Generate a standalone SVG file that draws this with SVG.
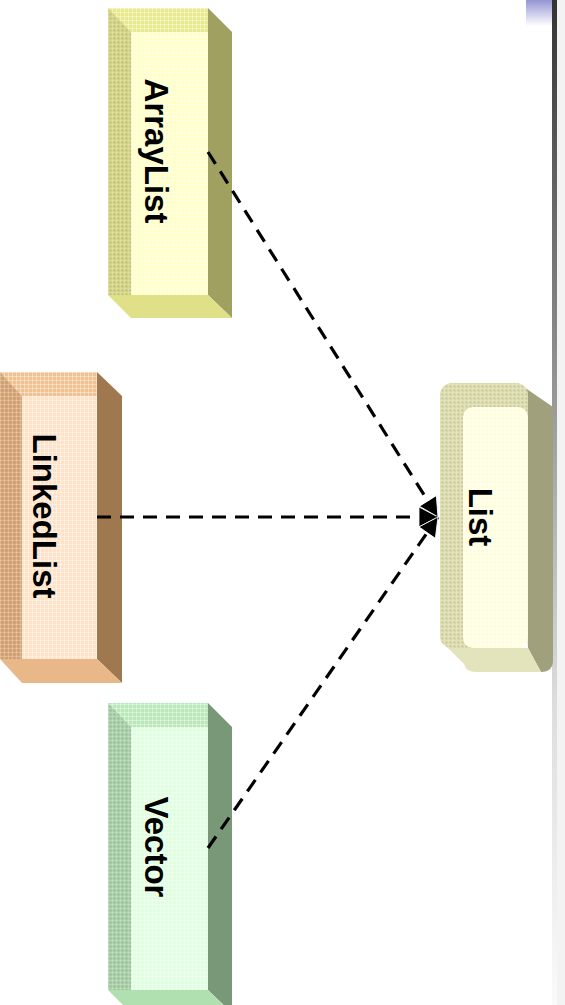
<svg xmlns="http://www.w3.org/2000/svg" width="565" height="1005" viewBox="0 0 565 1005">
<defs>
<style>
.lbl{font-family:"Liberation Sans",Arial,sans-serif;font-weight:bold;font-size:33px;fill:#000;text-anchor:middle}
.conn{fill:none;stroke:#000;stroke-width:3.2;stroke-dasharray:14 9}
.grid{fill:url(#grid)}
.dots{fill:url(#dots)}
</style>
<pattern id="grid" width="4" height="4" patternUnits="userSpaceOnUse">
<path d="M0,0.5H4M0.5,0V4" stroke="#fff" stroke-opacity="0.4" stroke-width="1"/>
</pattern>
<pattern id="dots" width="4" height="4" patternUnits="userSpaceOnUse">
<path d="M0,0.5H4M0.5,0V4" stroke="#fff" stroke-opacity="0.2" stroke-width="1"/>
<rect x="2" y="2" width="1" height="1" fill="#000" fill-opacity="0.12"/>
</pattern>
<linearGradient id="bar" x1="0" y1="0" x2="0" y2="1">
<stop offset="0" stop-color="#333"/>
<stop offset="0.4" stop-color="#999"/>
<stop offset="0.7" stop-color="#ddd"/>
<stop offset="1" stop-color="#fafafa"/>
</linearGradient>
<linearGradient id="blue" x1="0" y1="0" x2="0" y2="1">
<stop offset="0" stop-color="#9494d4"/>
<stop offset="1" stop-color="#fff"/>
</linearGradient>
<marker id="arr" markerUnits="userSpaceOnUse" markerWidth="22" markerHeight="22" viewBox="0 -11 22 22" refX="19" refY="0" orient="auto">
<path d="M0,-10L19,0L0,10Z" fill="#000" stroke="#fff" stroke-width="0.8"/>
</marker>
</defs>
<rect width="565" height="1005" fill="#fff"/>
<rect x="526" y="0" width="26" height="26" fill="url(#blue)"/>
<rect x="552" y="0" width="5" height="1005" fill="url(#bar)"/>
<rect x="557" y="0" width="8" height="1005" fill="#f3f3f3"/>

<g id="arraylist">
<polygon points="208,8 232,32 232,318 208,295" fill="#a0a060"/>
<polygon points="108,8 208,8 208,32 131,32" fill="#e8e88c"/>
<polygon points="108,8 208,8 208,32 131,32" class="grid"/>
<polygon points="108,295 208,295 232,318 131,318" fill="#e0e088"/>
<polygon points="108,8 131,32 131,295 108,295" fill="#d0d080"/>
<polygon points="108,8 131,32 131,295 108,295" class="dots"/>
<rect x="131" y="32" width="77" height="263" fill="#ffffc8"/>
<rect x="131" y="32" width="77" height="263" class="grid"/>
<text class="lbl" transform="translate(145,151) rotate(90)">ArrayList</text>
</g>

<g id="linkedlist">
<polygon points="97,372 122,396 122,683 97,659" fill="#a07850"/>
<polygon points="0,372 97,372 97,396 22,396" fill="#f0c090"/>
<polygon points="0,372 97,372 97,396 22,396" class="grid"/>
<polygon points="0,659 97,659 122,683 22,683" fill="#e8b888"/>
<polygon points="0,372 22,396 22,659 0,659" fill="#d4a474"/>
<polygon points="0,372 22,396 22,659 0,659" class="dots"/>
<rect x="22" y="396" width="75" height="263" fill="#ffe2c8"/>
<rect x="22" y="396" width="75" height="263" class="grid"/>
<text class="lbl" transform="translate(33,516) rotate(90)">LinkedList</text>
</g>

<g id="vector">
<polygon points="208,703 232,727 232,1013 208,990" fill="#789878"/>
<polygon points="108,703 208,703 208,727 131,727" fill="#b8e8b8"/>
<polygon points="108,703 208,703 208,727 131,727" class="grid"/>
<polygon points="108,990 208,990 232,1013 131,1013" fill="#b0e0b0"/>
<polygon points="108,703 131,727 131,990 108,990" fill="#a4cca4"/>
<polygon points="108,703 131,727 131,990 108,990" class="dots"/>
<rect x="131" y="727" width="77" height="263" fill="#e0ffe0"/>
<rect x="131" y="727" width="77" height="263" class="grid"/>
<text class="lbl" transform="translate(145,847) rotate(90)">Vector</text>
</g>

<g id="list">
<path d="M518,383 L553,407 L553,660 Q553,672 541,672 L528,648 Z" fill="#a0a07c"/>
<path d="M440,640 L464,664 Q466,672 476,672 L541,672 L528,648 L450,648 Z" fill="#e4e4bc"/>
<rect x="440" y="383" width="88" height="265" rx="12" fill="#d8d8a8"/>
<rect x="440" y="383" width="88" height="265" rx="12" class="dots"/>
<rect x="463" y="407" width="65" height="241" rx="10" fill="#ffffe0"/>
<rect x="463" y="407" width="65" height="241" rx="10" class="grid"/>
<text class="lbl" transform="translate(469,517) rotate(90)">List</text>
</g>

<g id="connectors">
<line class="conn" x1="208" y1="152" x2="438" y2="517" marker-end="url(#arr)"/>
<line class="conn" x1="97" y1="517" x2="438" y2="517" marker-end="url(#arr)"/>
<line class="conn" x1="208" y1="848" x2="438" y2="517" marker-end="url(#arr)"/>
</g>
</svg>
